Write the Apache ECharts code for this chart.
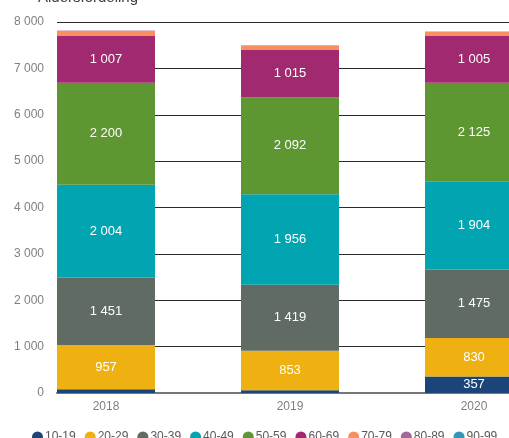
<!DOCTYPE html>
<html>
<head>
<meta charset="utf-8">
<script src="https://cdn.jsdelivr.net/npm/echarts@6/dist/echarts.min.js"></script>
<style>
  html, body { margin: 0; padding: 0; background: #fff; }
  #chart { width: 509px; height: 438px; }
</style>
</head>
<body>
<div id="chart"></div>
<script>
// Age distribution per year (stacked)
const years = ['2018', '2019', '2020'];
const ageGroups = ['10-19', '20-29', '30-39', '40-49', '50-59', '60-69', '70-79', '80-89', '90-99'];
const colors = ['#1b4479', '#eeb111', '#5f6b63', '#00a5b1', '#5e9732', '#a1296f', '#f98f5f', '#a4679e', '#3398b7'];

const age10 = [80, 60, 357];
const age20 = [957, 853, 830];
const age30 = [1451, 1419, 1475];
const age40 = [2004, 1956, 1904];
const age50 = [2200, 2092, 2125];
const age60 = [1007, 1015, 1005];
const age70 = [110, 100, 95];
const age80 = [6, 5, 6];
const age90 = [0, 0, 0];

const yTicks = [0, 1000, 2000, 3000, 4000, 5000, 6000, 7000, 8000];

const seriesValues = [age10, age20, age30, age40, age50, age60, age70, age80, age90];
const labelled = [true, true, true, true, true, true, false, false, false];

const fmt = v => String(v).replace(/\B(?=(\d{3})+(?!\d))/g, '\u00a0');
const font = "'Liberation Sans', Arial, sans-serif";
const yMin = yTicks[0];
const yMax = yTicks[yTicks.length - 1];

const series = ageGroups.map((name, i) => ({
  name,
  type: 'bar',
  stack: 'total',
  xAxisIndex: 0,
  yAxisIndex: 0,
  barWidth: 98,
  itemStyle: { color: colors[i] },
  label: {
    show: labelled[i],
    position: 'inside',
    color: '#fff',
    fontSize: 13,
    fontFamily: font,
    formatter: p => (p.value >= 300 ? fmt(p.value) : '')
  },
  emphasis: { disabled: true },
  data: seriesValues[i]
}));

const chart = echarts.init(document.getElementById('chart'));
chart.setOption({
  animation: false,
  textStyle: { fontFamily: font },
  graphic: [{
    type: 'text',
    left: 38,
    top: -10,
    style: { text: 'Aldersfordeling', fontSize: 15, fill: '#404040', fontFamily: font }
  }],
  grid: [
    // bar area: three equal category bands of 184px, running past the right edge
    { left: 14, width: 552, top: 22, bottom: 45, containLabel: false, outerBoundsMode: 'none' },
    // frame for value labels, gridlines and baseline
    { left: 57, right: 0, top: 22, bottom: 45, containLabel: false, outerBoundsMode: 'none' }
  ],
  xAxis: [
    {
      type: 'category',
      gridIndex: 0,
      data: years,
      axisLine: { show: false },
      axisTick: { show: false },
      axisLabel: { color: '#7f7f7f', fontSize: 12, margin: 8 }
    },
    {
      type: 'value',
      gridIndex: 1,
      min: 0,
      max: 1,
      splitLine: { show: false },
      axisTick: { show: false },
      axisLabel: { show: false },
      axisLine: { show: true, onZero: false, lineStyle: { color: '#767676', width: 2 } }
    }
  ],
  yAxis: [
    { type: 'value', gridIndex: 0, min: yMin, max: yMax, interval: 1000, show: false },
    {
      type: 'value',
      gridIndex: 1,
      min: yMin,
      max: yMax,
      interval: 1000,
      axisLine: { show: false },
      axisTick: { show: false },
      splitLine: { lineStyle: { color: '#2b2b2b', width: 1 } },
      axisLabel: { formatter: v => fmt(v), color: '#7f7f7f', fontSize: 12, margin: 13 }
    }
  ],
  legend: {
    data: ageGroups,
    left: 27,
    top: 426,
    icon: 'circle',
    itemWidth: 11,
    itemHeight: 11,
    itemGap: 9,
    textStyle: { color: '#595959', fontSize: 12, padding: [0, 0, 0, -3] }
  },
  series
});
</script>
</body>
</html>
